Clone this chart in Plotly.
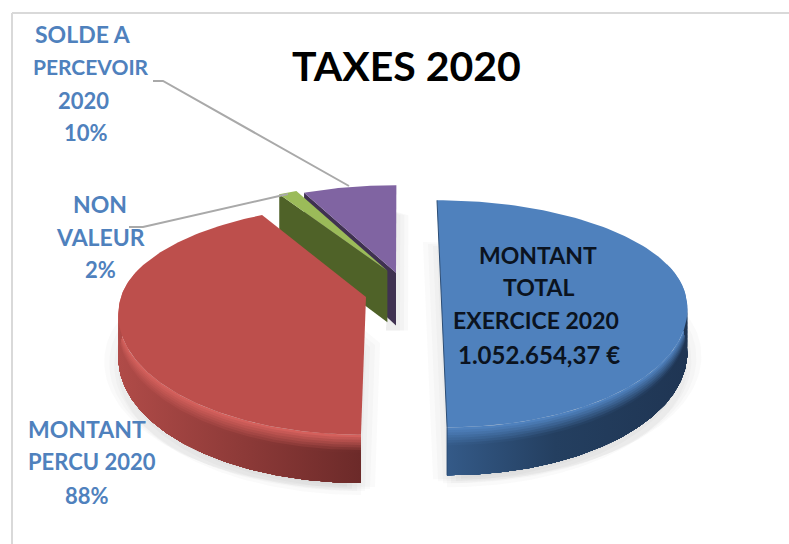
import numpy as np
import plotly.graph_objects as go

# ---- data ----
categories = ["MONTANT TOTAL EXERCICE 2020", "MONTANT PERCU 2020", "NON VALEUR", "SOLDE A PERCEVOIR 2020"]
shares = [100, 88, 2, 10]
title_text = "TAXES 2020"
total_amount = "1.052.654,37 €"

# ---- styling / projection constants ----
W, H = 789, 544
VX, YH, HZ, D = 400.0, -633.0, 930.0, 1000.0
RX, RZ_BACK, RZ_FRONT = 245.0, 110.0, 129.0
WARPS = [23.0, 19.0, 23.0, 23.0]
BLUE_TXT = "#4f81bd"
FONT = "Lato"

# slice origin on the ground plane (world X, world Z), wall height
origins = [(41.3, 6.0, 42.0), (-34.0, 0.0, 42.0), (-13.0, 29.0, 53.0), (-4.1, 26.7, 54.0)]
top_cols = ["#4f81bd", "#bd4f4c", "#9bbb59", "#8064a2"]
face_cols = ["#2c4d75", "#7a2f2d", "#4f6228", "#3f3151"]
wall_left = ["#345a88", "#b04b48"]
wall_right = ["#1f3553", "#6c2a29"]
rim_cols = ["#4f81bd", "#d4605c"]


def project(X, Z, lift=0.0):
    s = D / (D + Z)
    return VX + X * s, YH + (HZ + lift) * s


def rim(slice_i, th_deg, lift=0.0):
    ox, oz, _ = origins[slice_i]
    th = np.radians(th_deg)
    ph = th + np.radians(WARPS[slice_i]) * np.sin(th)
    rz = np.where(np.cos(ph) > 0, RZ_BACK, RZ_FRONT)
    return project(ox + RX * np.sin(ph), oz + rz * np.cos(ph), lift)


def hexrgb(c):
    return np.array([int(c[i:i + 2], 16) for i in (1, 3, 5)], float)


def mix(a, b, t):
    v = hexrgb(a) * (1 - t) + hexrgb(b) * t
    return "rgb(%d,%d,%d)" % tuple(v.round())


fig = go.Figure()


def poly(x, y, color=None, grad=None):
    kw = dict(x=list(x), y=list(y), mode="lines", fill="toself", line=dict(width=0),
              hoverinfo="skip", showlegend=False)
    if grad is not None:
        kw["fillgradient"] = grad
        kw["fillcolor"] = "rgba(0,0,0,0)"
    else:
        kw["fillcolor"] = color
    fig.add_trace(go.Scatter(**kw))


def stroke(x, y, color, width):
    fig.add_trace(go.Scatter(x=list(x), y=list(y), mode="lines", line=dict(color=color, width=width),
                             hoverinfo="skip", showlegend=False))


# slice angles come from the values
total = sum(shares)
edges = np.concatenate([[0], np.cumsum(shares) / total * 360])
ranges = [(edges[i], edges[i + 1]) for i in range(4)]

# soft shadows under the two big slices
for i in (0, 1):
    a, b = ranges[i]
    th = np.linspace(a, b, 120)
    x, y = rim(i, th, origins[i][2])
    ox, oz, t = origins[i]
    ax, ay = project(ox, oz, t)
    for dx, dy in [(-14, 4), (-9, 6), (-4, 8), (4, 8), (9, 6), (14, 4), (0, 12)]:
        poly(np.r_[x, ax] + dx, np.r_[y, ay] + dy, "rgba(90,90,90,0.03)")
# shadow right of the small slices
a, b = ranges[3]
ox, oz, t = origins[3]
ax, ay = project(ox, oz, t)
x0, y0 = rim(3, np.array([b]), 0)
for dx in (4, 8, 12):
    poly([x0[0] - 6, x0[0] + dx, ax + dx, ax - 10], [y0[0] + 25, y0[0] + 30, ay + 5, ay + 5], "rgba(90,90,90,0.04)")

# purple and green: side face first, then top
for i in (3, 2):
    a, b = ranges[i]
    ox, oz, t = origins[i]
    ax, ay = project(ox, oz, 0)
    ax2, ay2 = project(ox, oz, t)
    lx, ly = rim(i, np.array([a]), 0)
    lx2, ly2 = rim(i, np.array([a]), t)
    poly([lx[0], ax, ax2, lx2[0]], [ly[0], ay, ay2, ly2[0]], face_cols[i])
    th = np.linspace(a, b, 30)
    x, y = rim(i, th, 0)
    poly(np.r_[ax, x], np.r_[ay, y], top_cols[i])

# red then blue: wall bands then top
for i in (1, 0):
    a, b = ranges[i]
    ox, oz, t = origins[i]
    wall_a, wall_b = (55, 180) if i == 0 else (180, 305)
    th = np.linspace(wall_a, wall_b, 140)
    xtop, ytop = rim(i, th, 0)
    xlo, xhi = float(xtop.min()), float(xtop.max())
    n = 18
    fade = 0.38 if i == 0 else 0.36
    for k in range(n):
        f = k / (n - 1)
        lift = t * f * 0.9
        xu, yu = rim(i, th, lift)
        xd, yd = rim(i, th, t)
        m = min(f / fade, 1.0)
        cl, cr = wall_left[i], wall_right[i]
        if i == 0:
            colorscale = [[0, mix(top_cols[i], cl, m)], [0.45, mix(top_cols[i], "#243f60", m)], [1, mix(top_cols[i], cr, m)]]
        else:
            colorscale = [[0, mix(rim_cols[i], cl, m)], [1, mix(rim_cols[i], cr, m)]]
        poly(np.r_[xu, xd[::-1]], np.r_[yu, yd[::-1]],
             grad=dict(type="horizontal", colorscale=colorscale, start=xlo, stop=xhi))
    th = np.linspace(a, b, 160)
    x, y = rim(i, th, 0)
    ax, ay = project(ox, oz, 0)
    poly(np.r_[ax, x], np.r_[ay, y], top_cols[i])
    if i == 0:
        ex, ey = rim(i, np.array([0.0, 180.0]), 0)
        ex2, ey2 = rim(i, np.array([180.0]), t)
        stroke([ex[0], ex[1], ex2[0]], [ey[0], ey[1], ey2[0]], "#2c4d75", 1)

# leader lines
leader_x = [[153, 163, 349], [129, 143, 288]]
leader_y = [[81, 81, 186], [227, 227, 194]]
for lx, ly in zip(leader_x, leader_y):
    stroke(lx, ly, "#a9a9a9", 2)

annos = []


def text(s, x, y, size, color):
    annos.append(dict(text="<b>%s</b>" % s, x=x, y=y, xref="x", yref="y", showarrow=False, xanchor="center",
                      yanchor="middle", font=dict(family=FONT, size=size, color=color)))


pct = [round(v) for v in shares]
text(title_text, 406, 65, 41, "#000000")
for s, x, y, size in zip(["SOLDE A", "PERCEVOIR", "2020", "%d%%" % pct[3]], [83, 91, 83, 86], [34, 66, 100, 132], [23, 21, 22, 22]):
    text(s, x, y, size, BLUE_TXT)
for s, x, y, size in zip(["NON", "VALEUR", "%d%%" % pct[2]], [100, 100, 100], [204, 237, 269], [23, 23, 22]):
    text(s, x, y, size, BLUE_TXT)
for s, x, y, size in zip(["MONTANT", "PERCU 2020", "%d%%" % pct[1]], [87, 92, 87], [429, 461, 495], [23, 22, 22]):
    text(s, x, y, size, BLUE_TXT)
for s, x, y, size in zip(["MONTANT", "TOTAL", "EXERCICE 2020", total_amount], [538, 538, 536, 539], [255, 287, 320, 354], [23, 23, 23, 24]):
    text(s, x, y, size, "#0b1320")

fig.update_layout(
    width=W, height=H, margin=dict(l=0, r=0, t=0, b=0), paper_bgcolor="white", plot_bgcolor="white",
    xaxis=dict(range=[0, W], visible=False, fixedrange=True),
    yaxis=dict(range=[H, 0], visible=False, fixedrange=True),
    annotations=annos,
    shapes=[dict(type="line", x0=12, x1=12, y0=13, y1=544, line=dict(color="#d9d9d9", width=2)),
            dict(type="line", x0=12, x1=789, y0=13, y1=13, line=dict(color="#d9d9d9", width=2))],
)
fig.write_html("out.html", config={"displayModeBar": False},
               post_script="document.documentElement.style.margin='0';document.body.style.margin='0';")
